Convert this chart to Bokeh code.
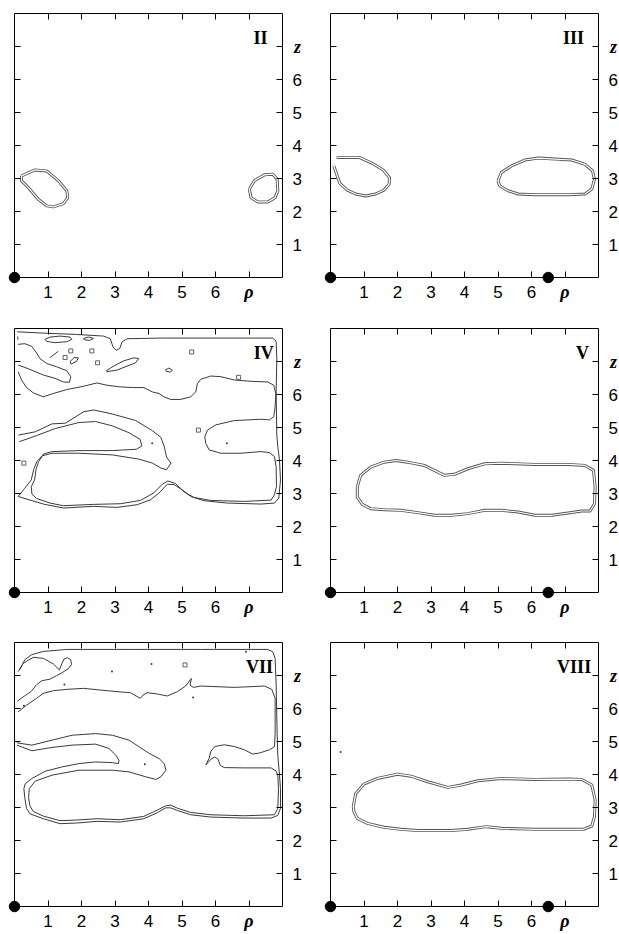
from bokeh.plotting import figure
from bokeh.models import Range1d, FixedTicker, Label, LinearAxis
from bokeh.layouts import column, row
from bokeh.embed import file_html
from bokeh.resources import INLINE

# ---------------- data ----------------
TICKS = [1, 2, 3, 4, 5, 6, 7]
TICK_TEXT = ["1", "2", "3", "4", "5", "6", ""]
RHO_LABEL = "ρ"
Z_LABEL = "z"
PANEL_NAMES = ["II", "III", "IV", "V", "VII", "VIII"]
PANEL_NAME_X = [7.55, 7.57, 7.74, 7.72, 7.72, 7.78]
PANEL_NAME_Z = 7.27
ORIGIN_DOT_RHO = [0.0]
ORIGIN_DOT_Z = [0.0]
SECOND_DOT_RHO = [0.0, 6.5]
SECOND_DOT_Z = [0.0, 0.0]

# Panel II
II_a_rho = [0.21, 0.61, 0.96, 1.31, 1.56, 1.59, 1.46, 1.16, 0.96, 0.71, 0.41, 0.21, 0.21]
II_a_z = [3.08, 3.26, 3.23, 2.93, 2.63, 2.42, 2.24, 2.14, 2.17, 2.37, 2.73, 2.93, 3.08]
II_b_rho = [7.01, 7.16, 7.46, 7.71, 7.84, 7.86, 7.78, 7.56, 7.26, 7.06, 7.01]
II_b_z = [2.68, 2.93, 3.11, 3.13, 2.98, 2.63, 2.42, 2.29, 2.29, 2.42, 2.68]

# Panel III
III_a_rho = [0.10, 0.28, 0.50, 0.75, 1.05, 1.35, 1.60, 1.75, 1.76, 1.58, 1.25, 0.85, 0.18]
III_a_z = [3.38, 2.85, 2.65, 2.53, 2.47, 2.53, 2.65, 2.83, 3.03, 3.25, 3.46, 3.64, 3.64]
III_b_rho = [5.00, 5.10, 5.40, 5.80, 6.20, 6.70, 7.20, 7.60, 7.82, 7.88, 7.80, 7.60, 7.10, 6.10, 5.60, 5.30, 5.05, 5.00]
III_b_z = [2.93, 3.18, 3.38, 3.56, 3.62, 3.59, 3.56, 3.43, 3.23, 2.98, 2.68, 2.53, 2.51, 2.51, 2.53, 2.63, 2.78, 2.93]

# Panel IV
IV_outer_rho = [0.12, 0.62, 1.12, 1.52, 2.07, 2.37, 2.92, 3.62, 4.12, 4.37, 4.47, 4.54, 4.67, 4.54, 4.37,
                4.12, 3.72, 2.92, 1.92, 1.12, 0.82, 0.67, 0.57, 0.50, 0.30, 0.11, 0.86, 1.46, 2.36, 3.06,
                3.66, 4.06, 4.31, 4.56, 4.76, 5.01, 5.26, 5.66, 6.36, 7.36, 7.76, 7.89, 7.94, 7.91, 7.86,
                7.83, 7.81, 7.83, 7.81, 7.71, 5.86, 4.36, 3.36, 3.21, 3.14, 3.04, 2.94, 2.86, 2.66, 1.86,
                0.86, 0.08]
IV_outer_z = [4.77, 4.87, 5.11, 5.13, 5.48, 5.53, 5.41, 5.21, 4.90, 4.70, 4.42, 4.10, 3.92, 3.72, 3.77,
              3.92, 4.04, 4.17, 4.22, 4.22, 4.14, 3.97, 3.72, 3.41, 3.15, 2.91, 2.68, 2.56, 2.61, 2.58,
              2.66, 2.81, 3.01, 3.28, 3.27, 3.11, 2.91, 2.78, 2.71, 2.68, 2.71, 2.86, 3.41, 4.02, 4.42,
              4.77, 6.08, 7.09, 7.61, 7.71, 7.71, 7.71, 7.69, 7.59, 7.39, 7.34, 7.44, 7.69, 7.77, 7.82,
              7.86, 7.90]
IV_mid_rho = [0.11, 0.21, 0.36, 0.56, 0.86, 1.16, 1.56, 2.06, 2.46, 2.76, 3.16, 3.56, 3.86, 4.11, 4.31,
              4.46, 4.66, 4.96, 5.26, 5.41, 5.46, 5.56, 5.86, 6.16, 6.56, 7.06, 7.56, 7.74, 7.80, 7.78,
              7.74, 7.61, 7.36, 6.56, 6.01, 5.76, 5.68, 5.71, 5.81, 6.16, 6.76, 7.36, 7.61, 7.76, 7.81,
              7.82, 7.76, 7.66, 6.86, 5.86, 5.36, 5.06, 4.81, 4.58, 4.41, 4.16, 3.76, 3.16, 2.36, 1.46,
              1.06, 0.66, 0.52, 0.50, 0.60, 0.64, 0.72, 0.87, 1.12, 1.92, 2.92, 3.64, 3.80, 3.75, 3.42,
              2.92, 2.42, 1.92, 1.22, 0.62, 0.14]
IV_mid_z = [6.69, 6.44, 6.21, 6.05, 5.93, 6.03, 6.15, 6.25, 6.35, 6.28, 6.23, 6.21, 6.21, 6.08, 6.03,
            5.93, 5.85, 5.85, 5.93, 6.08, 6.33, 6.46, 6.56, 6.54, 6.44, 6.40, 6.38, 6.28, 6.03, 5.63,
            5.33, 5.23, 5.25, 5.21, 5.08, 4.92, 4.72, 4.52, 4.32, 4.22, 4.22, 4.27, 4.24, 4.12, 3.82,
            3.21, 2.96, 2.80, 2.76, 2.79, 2.88, 3.05, 3.30, 3.38, 3.28, 3.02, 2.79, 2.69, 2.67, 2.63,
            2.71, 2.85, 2.98, 3.21, 3.41, 3.72, 3.97, 4.20, 4.27, 4.30, 4.30, 4.34, 4.44, 4.64, 4.84,
            5.05, 5.18, 5.15, 4.97, 4.74, 4.57]
IV_loop_rho = [0.11, 0.31, 0.51, 0.64, 0.76, 0.96, 1.26, 1.56, 1.68, 1.64, 1.46, 1.21, 0.86, 0.56, 0.31, 0.11]
IV_loop_z = [7.52, 7.54, 7.46, 7.29, 7.09, 6.94, 6.84, 6.72, 6.54, 6.37, 6.38, 6.49, 6.59, 6.72, 6.82, 6.89]
IV_leaf_rho = [2.74, 2.96, 3.26, 3.56, 3.71, 3.61, 3.36, 3.06, 2.74]
IV_leaf_z = [6.72, 6.86, 7.02, 7.11, 7.09, 6.96, 6.86, 6.74, 6.69]
IV_oval1_rho = [0.91, 1.06, 1.36, 1.66, 1.71, 1.56, 1.21, 0.96, 0.91]
IV_oval1_z = [7.67, 7.74, 7.77, 7.74, 7.67, 7.60, 7.57, 7.61, 7.67]
IV_oval2_rho = [2.06, 2.21, 2.36, 2.24, 2.08, 2.06]
IV_oval2_z = [7.70, 7.74, 7.70, 7.64, 7.66, 7.70]
IV_oval3_rho = [1.66, 1.78, 1.91, 1.84, 1.69, 1.66]
IV_oval3_z = [7.00, 7.12, 7.11, 7.00, 6.92, 7.00]
IV_oval4_rho = [4.51, 4.61, 4.71, 4.66, 4.53, 4.51]
IV_oval4_z = [6.75, 6.80, 6.74, 6.68, 6.70, 6.75]
IV_dash_rho = [1.06, 1.31]
IV_dash_z = [7.12, 7.31]
IV_tick_rho = [0.10, 0.10]
IV_tick_z = [7.66, 7.76]
IV_sq_rho = [1.68, 1.51, 2.31, 2.48, 5.29, 6.69, 5.49, 0.28]
IV_sq_z = [7.32, 7.12, 7.32, 6.96, 7.29, 6.52, 4.92, 3.92]
IV_dot_rho = [4.11, 6.34]
IV_dot_z = [4.52, 4.52]

# Panel V
V_rho = [0.80, 0.90, 1.20, 1.60, 1.95, 2.30, 2.80, 3.10, 3.40, 3.70, 4.10, 4.60, 5.10, 6.10, 7.10, 7.60,
         7.85, 7.90, 7.88, 7.75, 7.50, 7.10, 6.60, 6.10, 5.60, 5.10, 4.60, 4.10, 3.60, 3.10, 2.60, 2.10,
         1.60, 1.20, 0.95, 0.80, 0.80]
V_z = [3.20, 3.55, 3.80, 3.95, 4.00, 3.95, 3.85, 3.70, 3.55, 3.58, 3.75, 3.90, 3.92, 3.88, 3.88, 3.85,
       3.70, 3.20, 2.69, 2.47, 2.47, 2.41, 2.34, 2.34, 2.44, 2.49, 2.49, 2.39, 2.34, 2.34, 2.42, 2.49,
       2.51, 2.54, 2.67, 2.89, 3.20]

# Panel VII
VII_A_rho = [0.07, 0.52, 1.12, 1.72, 2.42, 2.82, 3.02, 3.12, 3.10, 2.92, 2.42, 1.92, 1.42, 0.92, 0.52,
             0.32, 0.28, 0.31, 0.36, 0.46, 0.86, 1.36, 1.86, 2.46, 3.16, 3.86, 4.26, 4.51, 4.66, 4.86,
             5.26, 5.86, 6.86, 7.66, 7.86, 7.94, 7.94, 7.91, 7.86, 7.84, 7.81, 7.78, 7.71, 7.56, 5.56,
             3.56, 1.56, 0.86, 0.51, 0.31, 0.16]
VII_A_z = [4.89, 4.72, 4.82, 4.89, 4.92, 4.79, 4.59, 4.43, 4.33, 4.36, 4.38, 4.33, 4.23, 4.10, 3.88,
           3.72, 3.57, 3.27, 2.97, 2.81, 2.66, 2.51, 2.53, 2.58, 2.56, 2.66, 2.84, 2.99, 2.99, 2.91,
           2.78, 2.71, 2.68, 2.68, 2.76, 2.97, 3.57, 3.98, 4.58, 5.24, 6.76, 7.52, 7.72, 7.79, 7.79,
           7.79, 7.79, 7.73, 7.63, 7.48, 7.18]
VII_B_rho = [0.11, 0.36, 0.66, 0.86, 1.16, 1.56, 2.06, 2.56, 3.06, 3.46, 3.66, 3.76, 3.84, 3.96, 4.26,
             4.56, 4.86, 5.11, 5.24, 5.28, 5.24, 5.34, 5.56, 6.56, 7.46, 7.68, 7.78, 7.78, 7.76, 7.61,
             7.31, 7.11, 6.86, 6.56, 6.26, 5.98, 5.86, 5.81, 5.71, 5.86, 5.98, 6.08, 6.14, 6.26, 6.86,
             7.66, 7.81, 7.86, 7.88, 7.86, 7.76, 6.86, 5.86, 5.26, 4.86, 4.66, 4.51, 4.26, 3.86, 3.16,
             2.46, 1.86, 1.36, 0.86, 0.56, 0.46, 0.42, 0.44, 0.62, 1.12, 1.92, 2.92, 3.42, 3.92, 4.22,
             4.37, 4.52, 4.47, 4.32, 4.02, 3.72, 3.42, 2.92, 2.42, 1.72, 1.12, 0.52, 0.07]
VII_B_z = [5.90, 6.10, 6.31, 6.46, 6.54, 6.58, 6.61, 6.56, 6.51, 6.48, 6.36, 6.31, 6.41, 6.48, 6.44,
           6.38, 6.51, 6.68, 6.86, 6.91, 6.71, 6.64, 6.68, 6.64, 6.68, 6.58, 6.31, 5.24, 4.84, 4.75,
           4.65, 4.62, 4.75, 4.85, 4.90, 4.85, 4.70, 4.49, 4.29, 4.46, 4.53, 4.46, 4.28, 4.21, 4.20,
           4.20, 4.10, 3.98, 3.57, 2.97, 2.78, 2.75, 2.78, 2.85, 2.98, 3.07, 3.05, 2.92, 2.73, 2.63,
           2.66, 2.62, 2.60, 2.74, 2.88, 3.05, 3.30, 3.57, 3.80, 3.98, 4.13, 4.13, 4.08, 3.93, 3.85,
           3.93, 4.13, 4.33, 4.48, 4.64, 4.84, 5.04, 5.19, 5.24, 5.19, 5.04, 4.89, 4.96]
VII_sq_line_rho = [0.11, 0.26, 0.56, 0.86, 1.16, 1.34, 1.41, 1.48, 1.58, 1.68, 1.70, 1.60, 1.41, 1.26,
                   1.06, 0.81, 0.66, 0.50, 0.30, 0.08]
VII_sq_line_z = [7.12, 7.37, 7.55, 7.52, 7.35, 7.17, 7.35, 7.50, 7.54, 7.48, 7.33, 7.20, 7.08, 7.00,
                 6.89, 6.84, 6.72, 6.52, 6.38, 6.22]
VII_sq_rho = [5.09]
VII_sq_z = [7.32]
VII_dot_rho = [4.09, 2.91, 1.49, 5.33, 3.89, 0.28, 6.91]
VII_dot_z = [7.35, 7.12, 6.73, 6.33, 4.31, 6.08, 7.72]

# Panel VIII
VIII_rho = [0.68, 0.75, 1.00, 1.40, 2.00, 2.40, 2.90, 3.50, 3.90, 4.40, 5.10, 6.10, 7.10, 7.50, 7.80,
            7.90, 7.88, 7.80, 7.55, 6.10, 5.10, 4.65, 4.10, 3.60, 2.60, 2.10, 1.60, 1.10, 0.80, 0.70, 0.68]
VIII_z = [3.02, 3.42, 3.71, 3.88, 4.01, 3.95, 3.78, 3.61, 3.68, 3.81, 3.88, 3.85, 3.86, 3.85, 3.68,
          3.22, 2.72, 2.44, 2.34, 2.34, 2.37, 2.42, 2.34, 2.30, 2.30, 2.34, 2.40, 2.52, 2.67, 2.87, 3.02]
VIII_dot_rho = [0.30]
VIII_dot_z = [4.68]

# ---------------- layout (page pixels) ----------------
LINE = "#3a3a3a"
COL_SPAN = [(0, 316), (316, 618)]          # figure extent, px
COL_BOX = [(14, 282), (330, 598)]          # box extent (rho 0..8), px
ROW_SPAN = [(0, 302), (302, 617), (617, 932)]
ROW_BOX = [(13, 277), (328, 592), (642, 906)]
BOTTOM_STANDOFF = 8
RHO_OFFSET = -14


def make_panel(idx, col, rw, doubles, singles, squares=None, dots=None, big_dots=(ORIGIN_DOT_RHO, ORIGIN_DOT_Z)):
    fx0, fx1 = COL_SPAN[col]
    bx0, bx1 = COL_BOX[col]
    fy0, fy1 = ROW_SPAN[rw]
    by0, by1 = ROW_BOX[rw]
    ux = (bx1 - bx0) / 8.0
    uy = (by1 - by0) / 8.0
    xr = Range1d(-(bx0 - fx0) / ux, 8 + (fx1 - bx1) / ux)
    yr = Range1d(-(fy1 - by1) / uy, 8 + (by0 - fy0) / uy)
    p = figure(frame_width=fx1 - fx0, frame_height=fy1 - fy0, x_range=xr, y_range=yr,
               x_axis_location=None, y_axis_location=None,
               toolbar_location=None, output_backend="svg", min_border=0,
               background_fill_color="white", border_fill_color="white",
               outline_line_color=None)
    p.grid.visible = False

    fixed = {"below": 0, "above": 8, "left": 0, "right": 8}
    for loc in ["below", "above", "left", "right"]:
        ax = LinearAxis(ticker=FixedTicker(ticks=TICKS), fixed_location=fixed[loc], bounds=(0, 8),
                        major_tick_in=6, major_tick_out=0,
                        minor_tick_in=0, minor_tick_out=0,
                        axis_line_color="black", major_tick_line_color="black",
                        axis_line_width=1, major_tick_line_width=1)
        if loc in ("below", "right"):
            ax.major_label_overrides = {t: s for t, s in zip(TICKS, TICK_TEXT)}
            ax.major_label_text_font = "Liberation Sans"
            ax.major_label_text_font_size = "17px"
            ax.major_label_text_color = "black"
            ax.major_label_standoff = BOTTOM_STANDOFF if loc == "below" else 10
        else:
            ax.major_label_overrides = {t: "" for t in TICKS}
            ax.major_label_text_font_size = "1px"
            ax.major_label_standoff = 0
        p.add_layout(ax, loc)

    for rr, zz in doubles:
        p.line(rr, zz, line_width=3.0, line_color="#555555", line_join="round")
        p.line(rr, zz, line_width=1.2, line_color="white", line_join="round")
    for rr, zz in singles:
        p.line(rr, zz, line_width=1, line_color=LINE, line_join="round")
    if squares is not None:
        p.scatter(squares[0], squares[1], marker="square", size=4, fill_color=None,
                  line_color=LINE, line_width=0.8)
    if dots is not None:
        p.scatter(dots[0], dots[1], marker="circle", size=2, fill_color=LINE, line_color=None)

    p.scatter(big_dots[0], big_dots[1], marker="circle", size=10.5, fill_color="black",
              line_color="black")

    p.add_layout(Label(x=7, y=0, text=RHO_LABEL, y_offset=RHO_OFFSET, text_align="center",
                       text_baseline="middle", text_font="Liberation Serif", text_color="black",
                       text_font_style="bold italic", text_font_size="18px"))
    p.add_layout(Label(x=8, y=7, text=Z_LABEL, x_offset=15, text_align="center",
                       text_baseline="middle", text_font="Liberation Serif", text_color="black",
                       text_font_style="bold italic", text_font_size="18px"))
    p.add_layout(Label(x=PANEL_NAME_X[idx], y=PANEL_NAME_Z, text=PANEL_NAMES[idx],
                       text_align="right", text_baseline="middle", text_color="black",
                       text_font="Liberation Serif", text_font_style="bold",
                       text_font_size="18px"))
    return p


p2 = make_panel(0, 0, 0, [(II_a_rho, II_a_z), (II_b_rho, II_b_z)], [])
p3 = make_panel(1, 1, 0, [(III_a_rho, III_a_z), (III_b_rho, III_b_z)], [],
                big_dots=(SECOND_DOT_RHO, SECOND_DOT_Z))
p4 = make_panel(2, 0, 1, [],
                [(IV_outer_rho, IV_outer_z), (IV_mid_rho, IV_mid_z), (IV_loop_rho, IV_loop_z),
                 (IV_leaf_rho, IV_leaf_z), (IV_oval1_rho, IV_oval1_z), (IV_oval2_rho, IV_oval2_z),
                 (IV_oval3_rho, IV_oval3_z), (IV_oval4_rho, IV_oval4_z), (IV_dash_rho, IV_dash_z),
                 (IV_tick_rho, IV_tick_z)],
                squares=(IV_sq_rho, IV_sq_z), dots=(IV_dot_rho, IV_dot_z))
p5 = make_panel(3, 1, 1, [(V_rho, V_z)], [], big_dots=(SECOND_DOT_RHO, SECOND_DOT_Z))
p7 = make_panel(4, 0, 2, [],
                [(VII_A_rho, VII_A_z), (VII_B_rho, VII_B_z), (VII_sq_line_rho, VII_sq_line_z)],
                squares=(VII_sq_rho, VII_sq_z), dots=(VII_dot_rho, VII_dot_z))
p8 = make_panel(5, 1, 2, [(VIII_rho, VIII_z)], [], dots=(VIII_dot_rho, VIII_dot_z),
                big_dots=(SECOND_DOT_RHO, SECOND_DOT_Z))

layout = column(row(p2, p3), row(p4, p5), row(p7, p8))
open("out.html", "w").write(file_html(layout, INLINE))
